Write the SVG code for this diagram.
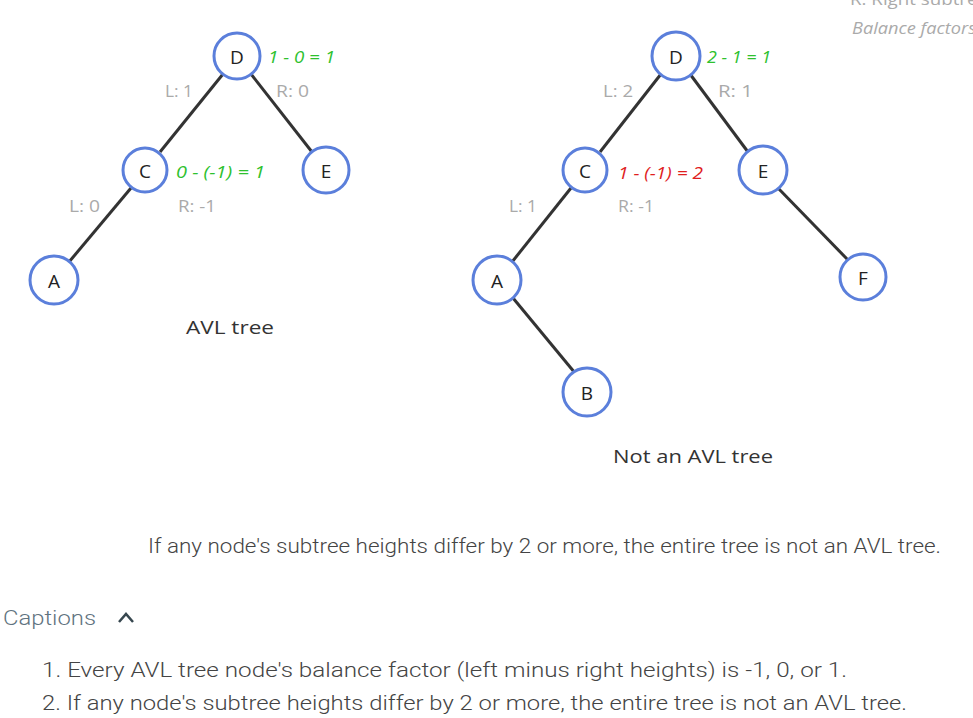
<svg xmlns="http://www.w3.org/2000/svg" width="973" height="718" viewBox="0 0 973 718">
<style>
.node circle{fill:#fff;stroke:#5b7fdb;stroke-width:3}
.node text{font-family:"Open Sans","DejaVu Sans",sans-serif;font-size:19px;fill:#222;text-anchor:middle;dominant-baseline:central}
.edge{stroke:#333;stroke-width:3;fill:none}
.h{font-family:"Open Sans","DejaVu Sans",sans-serif;font-size:16px;fill:#aaa;dominant-baseline:central}
.bf{font-family:"Open Sans","DejaVu Sans",sans-serif;font-size:17px;font-style:italic;dominant-baseline:central}
.ok{fill:#2ec12e}
.bad{fill:#e01e1e}
.title{font-family:"Open Sans","DejaVu Sans",sans-serif;font-size:19px;fill:#333;dominant-baseline:central}
.cap{font-family:Roboto,"Liberation Sans",sans-serif;font-weight:300;fill:#444;dominant-baseline:central}
</style>
<rect width="973" height="718" fill="#fff"/>
<g id="connectors">
<line class="edge" x1="223" y1="74" x2="160" y2="152"/>
<line class="edge" x1="251" y1="74" x2="312" y2="152"/>
<line class="edge" x1="131" y1="188" x2="69" y2="262"/>
<line class="edge" x1="661" y1="74" x2="600" y2="152"/>
<line class="edge" x1="690" y1="74" x2="748" y2="152"/>
<line class="edge" x1="571" y1="188" x2="512" y2="262"/>
<line class="edge" x1="777" y1="187" x2="848" y2="260"/>
<line class="edge" x1="513" y1="298" x2="575" y2="373"/>
</g>
<g id="L-D" class="node"><circle cx="237" cy="56" r="23"/><text x="237" y="57">D</text></g>
<g id="L-C" class="node"><circle cx="145" cy="170" r="22"/><text x="145" y="171">C</text></g>
<g id="L-E" class="node"><circle cx="326" cy="170" r="23"/><text x="326" y="171">E</text></g>
<g id="L-A" class="node"><circle cx="54" cy="280" r="24"/><text x="54" y="281">A</text></g>
<g id="R-D" class="node"><circle cx="676" cy="56" r="24"/><text x="676" y="57">D</text></g>
<g id="R-C" class="node"><circle cx="585" cy="170" r="22"/><text x="585" y="171">C</text></g>
<g id="R-E" class="node"><circle cx="763" cy="170" r="24"/><text x="763" y="171">E</text></g>
<g id="R-A" class="node"><circle cx="497" cy="280" r="24"/><text x="497" y="281">A</text></g>
<g id="R-B" class="node"><circle cx="587" cy="392" r="24"/><text x="587" y="393">B</text></g>
<g id="R-F" class="node"><circle cx="863" cy="277" r="23"/><text x="863" y="278">F</text></g>
<g id="labels">
<text class="bf ok" x="268" y="56" textLength="67" lengthAdjust="spacingAndGlyphs">1 - 0 = 1</text>
<text class="bf ok" x="176" y="171" textLength="89" lengthAdjust="spacingAndGlyphs">0 - (-1) = 1</text>
<text class="h" x="165" y="91" textLength="28" lengthAdjust="spacingAndGlyphs">L: 1</text>
<text class="h" x="276" y="91" textLength="33" lengthAdjust="spacingAndGlyphs">R: 0</text>
<text class="h" x="69" y="206" textLength="31" lengthAdjust="spacingAndGlyphs">L: 0</text>
<text class="h" x="178" y="206" textLength="38" lengthAdjust="spacingAndGlyphs">R: -1</text>
<text class="title" x="186" y="327" textLength="88" lengthAdjust="spacingAndGlyphs">AVL tree</text>
<text class="bf ok" x="707" y="56" textLength="64" lengthAdjust="spacingAndGlyphs">2 - 1 = 1</text>
<text class="bf bad" x="618" y="172" textLength="85" lengthAdjust="spacingAndGlyphs">1 - (-1) = 2</text>
<text class="h" x="603" y="91" textLength="30" lengthAdjust="spacingAndGlyphs">L: 2</text>
<text class="h" x="718" y="91" textLength="35" lengthAdjust="spacingAndGlyphs">R: 1</text>
<text class="h" x="509" y="206" textLength="28" lengthAdjust="spacingAndGlyphs">L: 1</text>
<text class="h" x="618" y="206" textLength="36" lengthAdjust="spacingAndGlyphs">R: -1</text>
<text class="title" x="613" y="456" textLength="160" lengthAdjust="spacingAndGlyphs">Not an AVL tree</text>
<text x="850" y="5" font-family="Open Sans, DejaVu Sans, sans-serif" font-size="16" fill="#aaa" textLength="138" lengthAdjust="spacingAndGlyphs">R: Right subtree</text>
<text class="h" x="852" y="27" style="font-style:italic;font-size:17px" textLength="124" lengthAdjust="spacingAndGlyphs">Balance factors</text>
</g>
<text class="cap" x="148" y="546" font-size="20" fill="#555" textLength="793" lengthAdjust="spacingAndGlyphs">If any node's subtree heights differ by 2 or more, the entire tree is not an AVL tree.</text>
<text class="cap" x="3" y="618" font-size="21" style="fill:#5f7380" textLength="93" lengthAdjust="spacingAndGlyphs">Captions</text>
<path d="M119 622 L126 614 L133 622" fill="none" stroke="#37474f" stroke-width="2.5"/>
<text class="cap" x="42" y="670" font-size="21" textLength="805" lengthAdjust="spacingAndGlyphs">1. Every AVL tree node's balance factor (left minus right heights) is -1, 0, or 1.</text>
<text class="cap" x="42" y="703" font-size="21" textLength="865" lengthAdjust="spacingAndGlyphs">2. If any node's subtree heights differ by 2 or more, the entire tree is not an AVL tree.</text>
</svg>
